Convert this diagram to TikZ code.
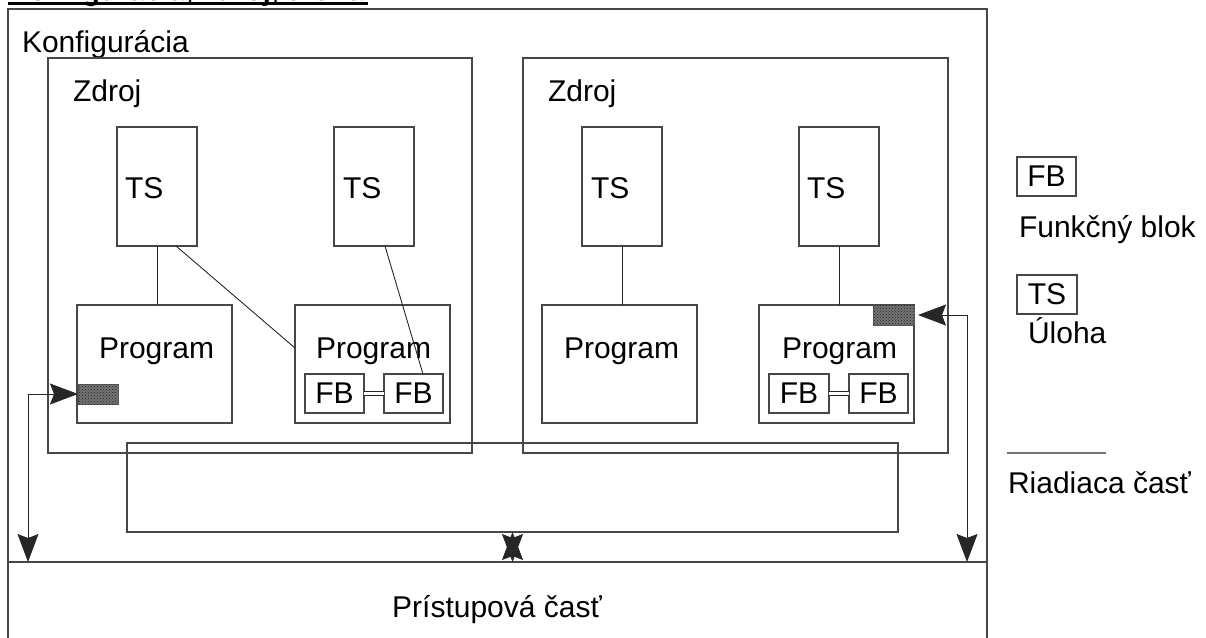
\documentclass[tikz,border=0pt]{standalone}
\usepackage{fontspec}
\setmainfont{Liberation Sans}
\usetikzlibrary{arrows.meta,calc,patterns}
\begin{document}
\begin{tikzpicture}[x=1pt,y=-1pt,
  txt/.style={font=\fontsize{30pt}{36pt}\selectfont},
  blk/.style={draw=black!72, line width=1.2pt, rectangle, anchor=north west,
    inner sep=0pt, outer sep=0pt, txt},
  lbl/.style={anchor=base west, inner sep=0pt, outer sep=0pt, txt},
  conn/.style={draw=black!85, line width=0.9pt},
  hatch/.style={blk, fill=black!55, draw=black!65, line width=0.8pt,
    postaction={pattern=crosshatch dots, pattern color=black!85}},
  bigtip/.tip={Stealth[length=28pt,width=21pt,inset=4pt]},
  arr/.style={conn, bigtip-bigtip}
]
\useasboundingbox (0,0) rectangle (1206,637);
\clip (0,0) rectangle (1206,637);

% title (cropped at the top of the picture, as in the original)
\node[anchor=base west, inner sep=0pt, font=\fontsize{29pt}{34pt}\selectfont\bfseries] (title) at (8,1) {Konfigurácia, zdroj, úloha};
\draw[line width=3pt] (8,3) -- (368,3);

% configuration frame
\node[blk, minimum width=979pt, minimum height=641pt] (konf) at (8,9) {};
\node[lbl] (konfl) at (22,52) {Konfigurácia};

% resources
\node[blk, minimum width=424pt, minimum height=395pt] (z1) at (48,58) {};
\node[lbl] (z1l) at (73,101) {Zdroj};
\node[blk, minimum width=425pt, minimum height=395pt] (z2) at (523,58) {};
\node[lbl] (z2l) at (548,101) {Zdroj};

% tasks
\node[blk, minimum width=80pt, minimum height=119pt] (ts1) at (117,127) {};
\node[lbl] (ts1l) at (125,198) {TS};
\node[blk, minimum width=80pt, minimum height=119pt] (ts2) at (334,127) {};
\node[lbl] (ts2l) at (343,198) {TS};
\node[blk, minimum width=80pt, minimum height=119pt] (ts3) at (582,127) {};
\node[lbl] (ts3l) at (591,198) {TS};
\node[blk, minimum width=80pt, minimum height=119pt] (ts4) at (799,127) {};
\node[lbl] (ts4l) at (807,198) {TS};

% programs
\node[blk, minimum width=155pt, minimum height=118pt] (p1) at (77,305) {};
\node[lbl] (p1l) at (99,358) {Program};
\node[blk, minimum width=155pt, minimum height=118pt] (p2) at (295,305) {};
\node[lbl] (p2l) at (316,358) {Program};
\node[blk, minimum width=155pt, minimum height=118pt] (p3) at (542,305) {};
\node[lbl] (p3l) at (564,358) {Program};
\node[blk, minimum width=155pt, minimum height=118pt] (p4) at (759,305) {};
\node[lbl] (p4l) at (782,358) {Program};

% function blocks
\node[blk, minimum width=59pt, minimum height=39pt] (fb1) at (305,374) {FB};
\node[blk, minimum width=59pt, minimum height=39pt] (fb2) at (384,374) {FB};
\node[blk, minimum width=60pt, minimum height=39pt] (fb3) at (769,374) {FB};
\node[blk, minimum width=59pt, minimum height=39pt] (fb4) at (849,374) {FB};
\draw[conn, line width=1pt, double, double distance=2.5pt] (fb1.east) -- (fb2.west);
\draw[conn, line width=1pt, double, double distance=2.5pt] (fb3.east) -- (fb4.west);

% hatched access points
\node[hatch, minimum width=40pt, minimum height=20pt] (h1) at (78,384) {};
\node[hatch, minimum width=41pt, minimum height=20pt] (h2) at (873,305) {};

% bus and access part
\node[blk, minimum width=771pt, minimum height=89pt] (bus) at (127,443) {};
\node[blk, minimum width=979pt, minimum height=90pt] (pr) at (8,562) {};
\node[lbl, anchor=base] (prl) at (497,617) {Prístupová časť};

% task - program connections
\draw[conn] (ts1.south) -- (ts1.south |- p1.north);
\draw[conn] ([xshift=19pt]ts1.south) -- ([yshift=16pt]p2.west);
\draw[conn] ([xshift=11pt]ts2.south) -- ([xshift=9.5pt]fb2.north);
\draw[conn] (ts3.south) -- (ts3.south |- p3.north);
\draw[conn] (ts4.south) -- (ts4.south |- p4.north);

% arrows
\coordinate (cl) at (28,394);
\draw[arr] (h1.west) -- (cl) -- (cl |- pr.north);
\coordinate (cr) at (967,315);
\draw[arr] ([xshift=4pt]h2.east) -- (cr) -- (cr |- pr.north);
\draw[arr] (bus.south) -- (bus.south |- pr.north);

% legend
\node[blk, minimum width=59pt, minimum height=39pt] (lfb) at (1017,157) {FB};
\node[lbl] (lfbl) at (1019,237) {Funkčný blok};
\node[blk, minimum width=60pt, minimum height=39pt] (lts) at (1017,275) {TS};
\node[lbl] (ltsl) at (1028,343) {Úloha};
\coordinate (lla) at (1007,453);
\coordinate (llb) at (1106,453);
\draw[draw=black!55, line width=1.5pt] (lla) -- (llb);
\node[lbl] (lll) at (1008,493) {Riadiaca časť};
\end{tikzpicture}
\end{document}
